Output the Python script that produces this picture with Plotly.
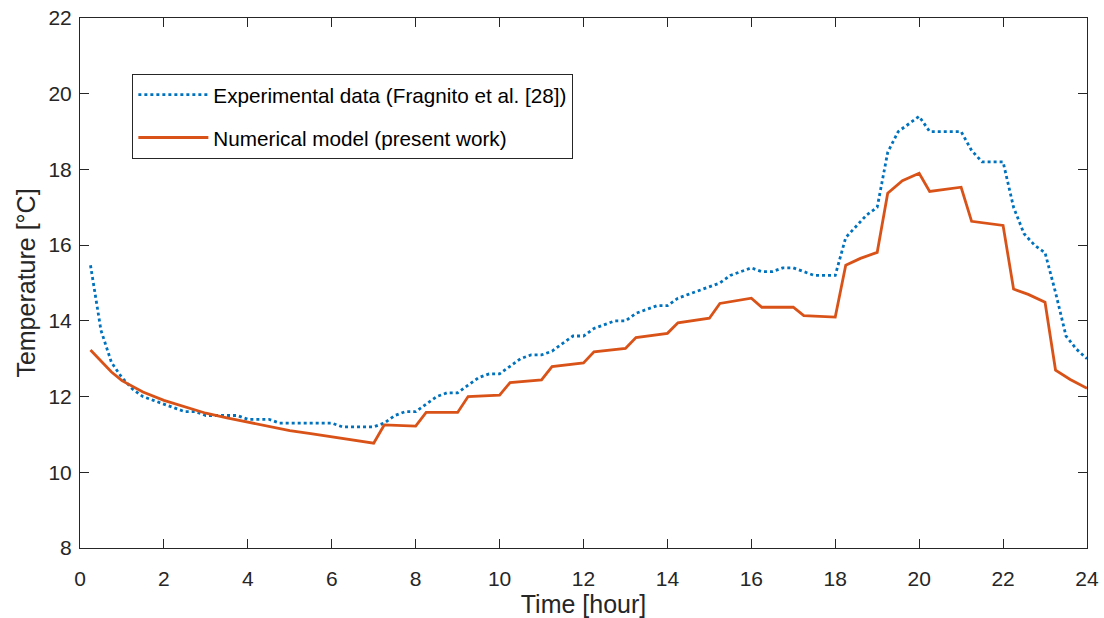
import plotly.graph_objects as go

# Experimental data (blue dotted), 15-minute resolution
exp_time = [0.25, 0.5, 0.75, 1.0, 1.25, 1.5, 1.75, 2.0, 2.25, 2.5, 2.75, 3.0,
            3.25, 3.5, 3.75, 4.0, 4.25, 4.5, 4.75, 5.0, 5.25, 5.5, 5.75, 6.0,
            6.25, 6.5, 6.75, 7.0, 7.25, 7.5, 7.75, 8.0, 8.25, 8.5, 8.75, 9.0,
            9.25, 9.5, 9.75, 10.0, 10.25, 10.5, 10.75, 11.0, 11.25, 11.5, 11.75, 12.0,
            12.25, 12.5, 12.75, 13.0, 13.25, 13.5, 13.75, 14.0, 14.25, 14.5, 14.75, 15.0,
            15.25, 15.5, 15.75, 16.0, 16.25, 16.5, 16.75, 17.0, 17.25, 17.5, 17.75, 18.0,
            18.25, 18.5, 18.75, 19.0, 19.25, 19.5, 19.75, 20.0, 20.25, 20.5, 20.75, 21.0,
            21.25, 21.5, 21.75, 22.0, 22.25, 22.5, 22.75, 23.0, 23.25, 23.5, 23.75, 24.0]
exp_temp = [15.47, 13.75, 12.9, 12.5, 12.2, 12.0, 11.9, 11.8, 11.7, 11.6, 11.6, 11.5,
            11.5, 11.5, 11.5, 11.4, 11.4, 11.4, 11.3, 11.3, 11.3, 11.3, 11.3, 11.3,
            11.2, 11.2, 11.2, 11.2, 11.3, 11.5, 11.6, 11.6, 11.8, 12.0, 12.1, 12.1,
            12.3, 12.5, 12.6, 12.6, 12.8, 13.0, 13.1, 13.1, 13.2, 13.4, 13.6, 13.6,
            13.8, 13.9, 14.0, 14.0, 14.2, 14.3, 14.4, 14.4, 14.6, 14.7, 14.8, 14.9,
            15.0, 15.2, 15.3, 15.4, 15.3, 15.3, 15.4, 15.4, 15.3, 15.2, 15.2, 15.2,
            16.2, 16.5, 16.8, 17.0, 18.45, 19.0, 19.2, 19.4, 19.0, 19.0, 19.0, 19.0,
            18.5, 18.2, 18.2, 18.2, 17.0, 16.3, 16.0, 15.8, 14.75, 13.6, 13.25, 13.0]

# Numerical model (red solid)
num_time = [0.25, 0.5, 0.75, 1.0, 1.5, 2.0, 2.5, 3.0, 3.5, 4.0, 4.5, 5.0, 5.5, 6.0, 6.5, 7.0,
            7.25, 8.0, 8.25, 9.0, 9.25, 10.0, 10.25, 11.0, 11.25, 12.0, 12.25, 13.0,
            13.25, 14.0, 14.25, 15.0, 15.25, 16.0, 16.25, 17.0, 17.25, 18.0,
            18.25, 18.6, 19.0, 19.25, 19.6, 20.0, 20.25, 21.0, 21.25, 22.0,
            22.25, 22.6, 23.0, 23.25, 23.6, 24.0]
num_temp = [13.23, 12.95, 12.65, 12.42, 12.12, 11.9, 11.72, 11.56, 11.44, 11.32, 11.2, 11.1,
            11.02, 10.94, 10.86, 10.77,
            11.25, 11.22, 11.58, 11.58, 12.0, 12.04, 12.37, 12.44, 12.79, 12.89, 13.18, 13.27,
            13.56, 13.67, 13.95, 14.07, 14.46, 14.6, 14.36, 14.36, 14.14, 14.1,
            15.47, 15.65, 15.81, 17.37, 17.7, 17.9, 17.42, 17.53, 16.63, 16.52,
            14.84, 14.7, 14.49, 12.7, 12.45, 12.22]

x_ticks = list(range(0, 25, 2))
y_ticks = list(range(8, 23, 2))

BLUE = "#0072BD"
RED = "#D95319"
AXC = "#262626"
FONT = "Liberation Sans, Arial, sans-serif"

fig = go.Figure()
fig.add_trace(go.Scatter(
    x=exp_time, y=exp_temp, mode="lines",
    name="Experimental data (Fragnito et al. [28])",
    line=dict(color=BLUE, width=2.8, dash="dot"),
    legendgroup="a",
))
fig.add_trace(go.Scatter(
    x=num_time, y=num_temp, mode="lines",
    name="Numerical model (present work)",
    line=dict(color=RED, width=2.8),
    legendgroup="b",
))

axis_common = dict(
    showline=True, linecolor=AXC, linewidth=1, mirror="allticks",
    ticks="inside", ticklen=9, tickwidth=1, tickcolor=AXC,
    showgrid=False, zeroline=False, automargin=False,
    tickfont=dict(family=FONT, size=21, color="#262626"),
)

fig.update_layout(
    width=1104, height=618,
    margin=dict(l=80, r=17, t=18, b=70),
    paper_bgcolor="white", plot_bgcolor="white",
    font=dict(family=FONT, color="#262626"),
    showlegend=True,
    legend=dict(
        x=0.052, y=0.895, xanchor="left", yanchor="top",
        bgcolor="white", bordercolor=AXC, borderwidth=1,
        font=dict(family=FONT, size=20.7, color="#000000"),
        tracegroupgap=13, traceorder="grouped", itemwidth=70,
    ),
)
fig.update_xaxes(
    range=[0, 24], tickvals=x_ticks, ticklabelstandoff=12,
    title=dict(text="Time [hour]", font=dict(family=FONT, size=25, color="#262626"), standoff=6),
    **axis_common,
)
fig.update_yaxes(
    range=[8, 22], tickvals=y_ticks, ticklabelstandoff=3,
    title=dict(text="Temperature [°C]", font=dict(family=FONT, size=25, color="#262626"), standoff=5),
    **axis_common,
)

fig.write_html("out.html")
